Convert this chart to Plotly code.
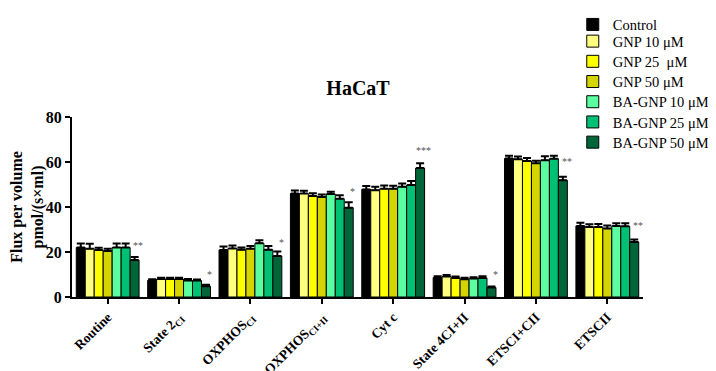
import plotly.graph_objects as go

categories = ["Routine", "State 2<sub>CI</sub>", "OXPHOS<sub>CI</sub>", "OXPHOS<sub>CI+II</sub>",
              "Cyt c", "State 4CI+II", "ETSCI+CII", "ETSCII"]
series_names = ["Control", "GNP 10 μM", "GNP 25  μM", "GNP 50 μM",
                "BA-GNP 10 μM", "BA-GNP 25 μM", "BA-GNP 50 μM"]
colors = ["#000000", "#FFFF80", "#FFFF00", "#D4D400", "#5CFFA0", "#00C074", "#00663A"]

control   = [22.0, 7.4, 20.9, 46.0, 47.8, 8.6, 61.6, 31.6]
gnp10     = [21.5, 8.0, 21.6, 46.0, 47.5, 9.1, 61.2, 31.1]
gnp25     = [20.9, 8.0, 21.0, 44.9, 48.1, 8.5, 60.5, 31.1]
gnp50     = [20.5, 8.0, 21.5, 44.4, 48.1, 7.9, 59.4, 30.5]
bagnp10   = [22.0, 7.3, 23.9, 45.8, 49.0, 8.2, 60.8, 31.6]
bagnp25   = [22.0, 7.3, 21.0, 43.7, 49.8, 8.5, 61.5, 31.4]
bagnp50   = [16.4, 4.8, 18.2, 39.7, 57.3, 4.2, 51.9, 24.5]

err_control = [1.8, 0.5, 1.5, 1.3, 1.5, 0.6, 1.2, 1.4]
err_gnp10   = [2.2, 0.6, 1.3, 1.2, 1.5, 0.7, 1.3, 1.2]
err_gnp25   = [1.0, 0.6, 1.0, 1.2, 1.5, 0.6, 1.3, 1.3]
err_gnp50   = [1.0, 0.6, 1.2, 1.2, 1.4, 0.7, 1.2, 1.3]
err_bagnp10 = [1.8, 0.7, 1.3, 1.0, 1.4, 0.6, 1.8, 1.2]
err_bagnp25 = [1.8, 0.5, 1.7, 1.5, 1.8, 0.7, 1.3, 1.4]
err_bagnp50 = [1.4, 0.6, 2.0, 2.4, 2.2, 0.5, 1.6, 1.1]

significance   = ["**", "*", "*", "*", "***", "*", "**", "**"]
significance_y = [23.1, 10.1, 24.2, 47.1, 65.3, 10.0, 60.2, 31.6]

y_ticks = [0, 20, 40, 60, 80]

values = [control, gnp10, gnp25, gnp50, bagnp10, bagnp25, bagnp50]
errors = [err_control, err_gnp10, err_gnp25, err_gnp50, err_bagnp10, err_bagnp25, err_bagnp50]

# layout geometry (figure pixels; page is offset by 8 px)
M_L, M_T, PLOT_W, PLOT_H = 64, 109, 571, 180
LEG_FIRST_CENTER, LEG_STEP, LEG_OFFSET = 12, 20.2, 15

fig = go.Figure()
legend_layouts = {}
for i, (name, col, v, e) in enumerate(zip(series_names, colors, values, errors)):
    key = "legend" if i == 0 else f"legend{i + 1}"
    fig.add_trace(go.Bar(
        x=categories, y=v, name=name, legend=key, showlegend=True,
        marker=dict(color=col, line=dict(color="#000000", width=1)),
        error_y=dict(type="data", array=e, arrayminus=[0]*len(e), symmetric=False,
                     color="#000000", thickness=2, width=4),
    ))
    top_px = max(0.5, LEG_FIRST_CENTER + LEG_STEP * i - LEG_OFFSET)
    legend_layouts[key] = dict(
        x=0.877, y=(M_T + PLOT_H - top_px) / PLOT_H, xanchor="left", yanchor="top",
        font=dict(size=14.5, family="Liberation Serif", color="#000000"),
        bgcolor="rgba(0,0,0,0)", itemwidth=30)

# significance marks next to the last series
for i, (s, sy) in enumerate(zip(significance, significance_y)):
    fig.add_annotation(x=i + 0.43, y=sy, text=s,
                       xref="x", yref="y", showarrow=False, yanchor="middle",
                       xanchor="center",
                       font=dict(size=10, color="#555555", family="Liberation Serif"))

fig.update_layout(
    width=716, height=371, showlegend=True,
    margin=dict(l=M_L, r=716 - M_L - PLOT_W, t=M_T, b=371 - M_T - PLOT_H, autoexpand=False),
    paper_bgcolor="white", plot_bgcolor="white",
    barmode="group", bargap=0.12, bargroupgap=0,
    font=dict(family="Liberation Serif", color="#000000"),
    title=dict(text="<b>HaCaT</b>", x=(358 - 8) / 716, xanchor="center", y=0.784, yanchor="middle",
               font=dict(size=20, family="Liberation Serif", color="#000000")),
    xaxis=dict(showline=True, linecolor="#000000", linewidth=2, ticks="outside",
               ticklen=5, tickwidth=2, tickcolor="#000000", tickangle=-45,
               tickfont=dict(size=13.5, family="Liberation Serif", color="#000000", weight="bold"),
               showgrid=False, range=[-0.5, 7.5], automargin=False),
    yaxis=dict(showline=True, linecolor="#000000", linewidth=2, ticks="outside",
               ticklen=5, tickwidth=2, tickcolor="#000000", range=[0, 80],
               tickvals=y_ticks, showgrid=False, zeroline=False, automargin=False,
               tickfont=dict(size=16, family="Liberation Serif", color="#000000", weight="bold"),
               title=dict(text="<b>Flux per volume<br>pmol/(s×ml)</b>",
                          font=dict(size=16, family="Liberation Serif", color="#000000"),
                          standoff=8)),
    **legend_layouts,
)

fig.write_html("out.html")
